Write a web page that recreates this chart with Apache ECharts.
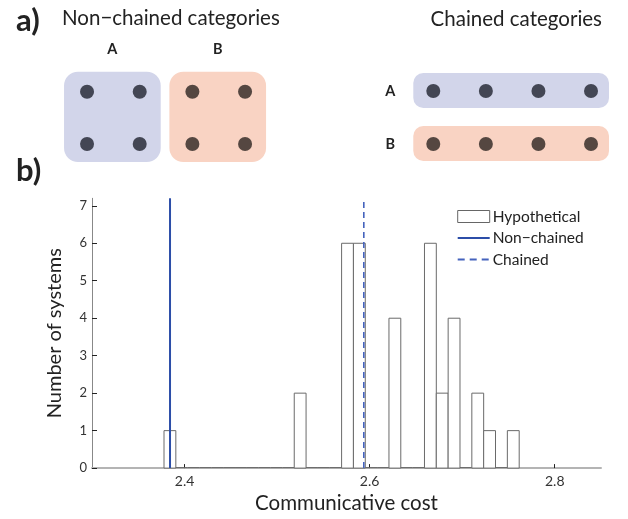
<!DOCTYPE html>
<html><head><meta charset="utf-8">
<script src="https://cdn.jsdelivr.net/npm/echarts@6/dist/echarts.min.js"></script>
<style>html,body{margin:0;padding:0;background:#fff}#c{width:628px;height:519px}</style>
</head><body><div id="c"></div>
<script>
// ---- panel b data ----
const histMin = 2.3778;
const histMax = 2.7616;
const counts = [1,0,0,0,0,0,0,0,0,0,0,2,0,0,0,6,6,0,0,4,0,0,6,2,4,0,2,1,0,1];
const nonChainedCost = 2.3843;
const chainedCost = 2.5937;
const xTickValues = [2.4, 2.6, 2.8];
const yTickValues = [0, 1, 2, 3, 4, 5, 6, 7];
const xRange = [2.3, 2.85];
const yRange = [0, 7.2];
const seriesNames = ['Hypothetical', 'Non\u2212chained', 'Chained'];
// ---- panel a data ----
const categoryNames = ['A', 'B'];
const nonChainedA = [[0,0],[1,0],[0,1],[1,1]];
const nonChainedB = [[2,0],[3,0],[2,1],[3,1]];
const chainedA = [[0,0],[1,0],[2,0],[3,0]];
const chainedB = [[0,1],[1,1],[2,1],[3,1]];

const FONT = 'Lato, "Open Sans", sans-serif';
const fills = ['#d2d5ea', '#f9d3c3'];
const dotColors = ['#434654', '#554741'];
const solidBlue = '#2c4ea8';
const dashBlue = '#4563bd';

const binW = (histMax - histMin) / counts.length;
const histData = counts.map((c, i) => [histMin + i * binW, histMin + (i + 1) * binW, c]);

function groupSeries(gi, groups, pad, radius, labelMode) {
  return {
    type: 'custom', xAxisIndex: gi, yAxisIndex: gi, silent: true, z: 1,
    data: groups.map((g, i) => [i, 0]),
    renderItem(params, api) {
      const k = api.value(0);
      const pts = groups[k].map(p => api.coord(p));
      const xs = pts.map(p => p[0]), ys = pts.map(p => p[1]);
      const x0 = Math.min(...xs) - pad[0], x1 = Math.max(...xs) + pad[1];
      const y0 = Math.min(...ys) - pad[2], y1 = Math.max(...ys) + pad[3];
      const txt = labelMode === 'top'
        ? { x: (x0 + x1) / 2, y: y0 - 22 }
        : { x: x0 - 23, y: (y0 + y1) / 2 + 1 };
      return {
        type: 'group',
        children: [
          { type: 'rect', shape: { x: x0, y: y0, width: x1 - x0, height: y1 - y0, r: radius }, style: { fill: fills[k] } },
          { type: 'text', style: { x: txt.x, y: txt.y, text: categoryNames[k], fill: '#222', font: 'bold 14.5px ' + FONT, align: 'center', verticalAlign: 'middle' } }
        ]
      };
    }
  };
}
function dotSeries(gi, pts, k) {
  return { type: 'scatter', xAxisIndex: gi, yAxisIndex: gi, silent: true, z: 3, symbolSize: 14,
    itemStyle: { color: dotColors[k], opacity: 1 }, data: pts };
}
const hiddenX = (gi) => ({ gridIndex: gi, type: 'value', min: -0.5, max: 3.5, show: false });
const hiddenY = (gi) => ({ gridIndex: gi, type: 'value', min: -0.5, max: 1.5, inverse: true, show: false });

const chart = echarts.init(document.getElementById('c'), null, { renderer: 'canvas' });
chart.setOption({
  animation: false,
  backgroundColor: '#fff',
  textStyle: { fontFamily: FONT },
  grid: [
    { left: 92, right: 27, top: 198.3, bottom: 49.7 },
    { left: 60.7, top: 65.6, width: 210.7, height: 104.6 },
    { left: 407, top: 64.5, width: 210.3, height: 106 }
  ],
  xAxis: [
    { gridIndex: 0, type: 'value', min: xRange[0], max: xRange[1],
      name: 'Communicative cost', nameLocation: 'middle', nameGap: 23.5,
      nameTextStyle: { fontSize: 20.5, color: '#222', fontFamily: FONT },
      axisLine: { show: true, lineStyle: { color: '#b4b4b4', width: 2 } },
      axisTick: { show: true, inside: true, length: 4, customValues: xTickValues, lineStyle: { color: '#222', width: 1 } },
      axisLabel: { customValues: xTickValues, formatter: v => v.toFixed(1), fontSize: 14, color: '#333', margin: 6, fontFamily: FONT },
      splitLine: { show: false } },
    hiddenX(1), hiddenX(2)
  ],
  yAxis: [
    { gridIndex: 0, type: 'value', min: yRange[0], max: yRange[1],
      name: 'Number of systems', nameLocation: 'middle', nameGap: 27, nameRotate: 90,
      nameTextStyle: { fontSize: 20, color: '#222', fontFamily: FONT },
      axisLine: { show: true, lineStyle: { color: '#888', width: 1 } },
      axisTick: { show: true, inside: true, length: 5, customValues: yTickValues, lineStyle: { color: '#222', width: 1 } },
      axisLabel: { customValues: yTickValues, fontSize: 13, color: '#333', margin: 5, fontFamily: FONT },
      splitLine: { show: false } },
    hiddenY(1), hiddenY(2)
  ],
  legend: {
    orient: 'vertical', left: 456.7, top: 208.5, padding: 0, itemWidth: 32, itemHeight: 12, itemGap: 5.5,
    textStyle: { fontSize: 15.5, color: '#222', fontFamily: FONT, padding: [0, 0, 0, -2] },
    data: [
      { name: seriesNames[0], icon: 'rect', itemStyle: { color: '#fff', borderColor: '#666', borderWidth: 1 } },
      { name: seriesNames[1], icon: 'line', itemStyle: { color: solidBlue, borderColor: solidBlue, borderWidth: 2 } },
      { name: seriesNames[2], icon: 'line', itemStyle: { color: dashBlue, borderColor: dashBlue, borderWidth: 1.8, borderType: [7, 5] } }
    ]
  },
  graphic: [
    { type: 'text', left: 16, top: 5, style: { text: 'a)', font: 'bold 31px ' + FONT, fill: '#222' } },
    { type: 'text', left: 16, top: 155, style: { text: 'b)', font: 'bold 31px ' + FONT, fill: '#222' } },
    { type: 'text', left: 62, top: 7.5, style: { text: 'Non\u2212chained categories', font: '20.5px ' + FONT, fill: '#222' } },
    { type: 'text', right: 26, top: 8.5, style: { text: 'Chained categories', font: '20.5px ' + FONT, fill: '#222' } }
  ],
  series: [
    { name: seriesNames[0], type: 'custom', xAxisIndex: 0, yAxisIndex: 0, z: 2,
      itemStyle: { color: '#fff', borderColor: '#666' },
      encode: { x: [0, 1], y: 2 },
      data: histData,
      renderItem(params, api) {
        const a = api.coord([api.value(0), 0]);
        const b = api.coord([api.value(1), api.value(2)]);
        if (api.value(2) === 0) {
          return { type: 'line', shape: { x1: a[0], y1: a[1] - 0.5, x2: b[0], y2: a[1] - 0.5 }, style: { stroke: '#666', lineWidth: 1 } };
        }
        return { type: 'rect', shape: { x: a[0], y: b[1], width: b[0] - a[0], height: a[1] - b[1] },
          style: { fill: '#fff', stroke: '#6a6a6a', lineWidth: 1 } };
      } },
    { name: seriesNames[1], type: 'line', xAxisIndex: 0, yAxisIndex: 0, z: 3, symbol: 'none',
      color: solidBlue, lineStyle: { color: solidBlue, width: 2 },
      data: [[nonChainedCost, yRange[0]], [nonChainedCost, yRange[1]]] },
    { name: seriesNames[2], type: 'line', xAxisIndex: 0, yAxisIndex: 0, z: 3, symbol: 'none',
      color: dashBlue, lineStyle: { color: dashBlue, width: 1.6, type: [6, 4] },
      data: [[chainedCost, yRange[0]], [chainedCost, yRange[1]]] },
    groupSeries(1, [nonChainedA, nonChainedB], [23, 21, 20, 18], 14, 'top'),
    dotSeries(1, nonChainedA, 0), dotSeries(1, nonChainedB, 1),
    groupSeries(2, [chainedA, chainedB], [20, 18, 18, 17], 10, 'left'),
    dotSeries(2, chainedA, 0), dotSeries(2, chainedB, 1)
  ]
});
</script></body></html>
